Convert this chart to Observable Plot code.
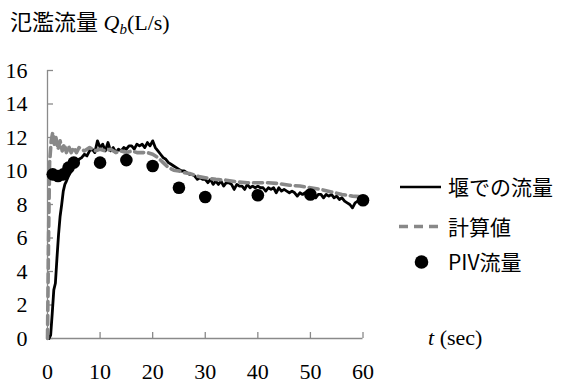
<!DOCTYPE html>
<html>
<head>
<meta charset="utf-8">
<script src="https://cdn.jsdelivr.net/npm/d3@7"></script>
<script src="https://cdn.jsdelivr.net/npm/@observablehq/plot@0.6"></script>
<style>
  html, body { margin: 0; padding: 0; background: #fff; }
  #wrap { position: relative; width: 563px; height: 383px; overflow: hidden; }
  #wrap > svg { position: absolute; left: 0; top: 0; }
  #wrap svg text { font-family: "Liberation Serif", "Noto Sans CJK JP", serif !important; }
  #wrap svg text.sans { font-family: "Noto Sans CJK JP", "Noto Sans", sans-serif !important; }
</style>
</head>
<body>
<div id="wrap"></div>
<script>
// 堰での流量 (measured at the weir), time in seconds
const weirT = [0.3, 0.6, 0.9, 1.2, 1.5, 1.8, 2.1, 2.4, 2.7, 3.0, 3.3, 3.6, 4.0, 4.5, 5.0, 5.5, 6.0, 6.5, 7.0, 7.5,
  8.0, 8.5, 9.0, 9.5, 10.0, 10.5, 11.0, 11.5, 12.0, 12.5, 13.0, 13.5, 14.0, 14.5, 15.0, 15.5, 16.0, 16.5, 17.0, 17.5,
  18.0, 18.5, 19.0, 19.5, 20.0, 20.5, 21.0, 21.5, 22.0, 22.5, 23.0, 23.5, 24.0, 24.5, 25.0, 25.5, 26.0, 26.5, 27.0, 27.5,
  28.0, 28.5, 29.0, 29.5, 30.0, 30.5, 31.0, 31.5, 32.0, 32.5, 33.0, 33.5, 34.0, 34.5, 35.0, 35.5, 36.0, 36.5, 37.0, 37.5,
  38.0, 38.5, 39.0, 39.5, 40.0, 40.5, 41.0, 41.5, 42.0, 42.5, 43.0, 43.5, 44.0, 44.5, 45.0, 45.5, 46.0, 46.5, 47.0, 47.5,
  48.0, 48.5, 49.0, 49.5, 50.0, 50.5, 51.0, 51.5, 52.0, 52.5, 53.0, 53.5, 54.0, 54.5, 55.0, 55.5, 56.0, 56.5, 57.0, 57.5,
  58.0, 58.5, 59.0, 59.5, 60.0];
const weirQ = [0.0, 0.2, 1.5, 2.9, 3.3, 4.8, 6.2, 7.3, 8.0, 8.8, 9.2, 9.4, 9.7, 10.0, 10.3, 10.5, 10.7, 10.8, 11.0, 10.9,
  11.2, 11.3, 11.1, 11.8, 11.4, 11.6, 11.2, 11.7, 11.2, 11.4, 11.1, 11.3, 11.2, 11.4, 11.3, 11.5, 11.5, 11.3, 11.6, 11.5,
  11.6, 11.4, 11.7, 11.5, 11.8, 11.4, 11.2, 11.0, 10.8, 10.7, 10.5, 10.4, 10.3, 10.2, 10.1, 10.0, 10.0, 9.9, 9.8, 9.8,
  9.7, 9.5, 9.6, 9.5, 9.5, 9.3, 9.5, 9.2, 9.4, 9.2, 9.4, 9.1, 9.3, 9.3, 9.2, 8.9, 9.2, 9.1, 9.1, 8.9, 9.2, 9.0, 9.1, 9.0,
  9.1, 9.0, 9.0, 8.8, 9.0, 8.9, 9.0, 8.7, 9.0, 8.8, 8.9, 8.8, 8.7, 8.8, 8.7, 8.5, 8.7, 8.6, 8.7, 8.5, 8.6, 8.6, 8.4, 8.6,
  8.6, 8.4, 8.6, 8.5, 8.6, 8.4, 8.5, 8.3, 8.4, 8.2, 8.1, 8.0, 7.8, 8.1, 8.2, 8.1, 8.2];

// 計算値 (computed discharge)
const calcT = [0, 0.2, 0.4, 0.7, 1.0, 1.3, 1.6, 2.0, 2.4, 2.8, 3.2, 3.6, 4.0, 4.5, 5.0, 5.5, 6.0, 7.0, 8.0, 9.0, 10.0,
  11.0, 12.0, 13.0, 14.0, 15.0, 16.0, 17.0, 18.0, 19.0, 20.0, 21.0, 22.0, 23.0, 24.0, 25.0, 26.0, 27.0, 28.0, 29.0,
  30.0, 32.0, 34.0, 36.0, 38.0, 40.0, 42.0, 44.0, 46.0, 48.0, 50.0, 52.0, 54.0, 56.0, 58.0, 60.0];
const calcQ = [0, 6.0, 10.5, 11.8, 12.3, 11.6, 12.0, 11.3, 11.8, 11.2, 11.6, 11.1, 11.5, 11.1, 11.4, 11.1, 11.4, 11.2,
  11.4, 11.2, 11.3, 11.2, 11.3, 11.1, 11.2, 11.1, 11.2, 11.1, 11.1, 11.1, 11.0, 10.8, 10.5, 10.2, 10.05, 10.0, 9.9, 9.85,
  9.75, 9.65, 9.6, 9.5, 9.45, 9.35, 9.3, 9.3, 9.3, 9.25, 9.15, 9.1, 9.0, 8.9, 8.75, 8.6, 8.5, 8.45];

// PIV流量 (PIV-derived discharge)
const pivT = [1, 2, 3, 4, 5, 10, 15, 20, 25, 30, 40, 50, 60];
const pivQ = [9.8, 9.7, 9.8, 10.2, 10.5, 10.5, 10.65, 10.3, 9.0, 8.45, 8.55, 8.6, 8.25];

const xTicks = [0, 10, 20, 30, 40, 50, 60];
const yTicks = [0, 2, 4, 6, 8, 10, 12, 14, 16];

const weir = weirT.map((t, i) => ({t, q: weirQ[i]}));
const calc = calcT.map((t, i) => ({t, q: calcQ[i]}));
const piv = pivT.map((t, i) => ({t, q: pivQ[i]}));

const axisGray = "#8a8a8a";
const serifFont = "Liberation Serif";

const chart = Plot.plot({
  width: 563,
  height: 383,
  marginLeft: 47,
  marginRight: 200.5,
  marginTop: 70,
  marginBottom: 45,
  style: "font-family: 'Liberation Serif', serif; font-size: 22px; color: #000; background: transparent;",
  x: {domain: [0, 60], ticks: xTicks, label: null},
  y: {domain: [0, 16], ticks: yTicks, label: null},
  marks: [
    Plot.ruleY([0], {stroke: axisGray, strokeWidth: 1.3}),
    Plot.ruleX([0], {stroke: axisGray, strokeWidth: 1.3}),
    // inward tick marks
    Plot.axisX({ticks: xTicks, tickSize: 6, dy: -6, tickFormat: () => "", label: null, stroke: axisGray, strokeWidth: 1.3}),
    Plot.axisY({ticks: yTicks, tickSize: 6, dx: 6, tickFormat: () => "", label: null, stroke: axisGray, strokeWidth: 1.3}),
    // tick labels
    Plot.axisX({ticks: xTicks, tickSize: 0, tickPadding: 25, label: null, fontSize: 22, fontFamily: serifFont, fill: "#000"}),
    Plot.axisY({ticks: yTicks, tickSize: 0, tickPadding: 20, label: null, fontSize: 22, fontFamily: serifFont, fill: "#000"}),
    Plot.line(weir, {x: "t", y: "q", stroke: "#000", strokeWidth: 2.8, strokeLinejoin: "round"}),
    Plot.line(calc, {x: "t", y: "q", stroke: "#888", strokeWidth: 3.6, strokeDasharray: "9,5"}),
    Plot.dot(piv, {x: "t", y: "q", r: 6.3, fill: "#000", stroke: "none"})
  ]
});

const wrap = document.getElementById("wrap");
wrap.appendChild(chart);

// Title, axis unit and legend
const ns = "http://www.w3.org/2000/svg";
const overlay = document.createElementNS(ns, "svg");
overlay.setAttribute("width", 563);
overlay.setAttribute("height", 383);
overlay.innerHTML = `
  <text x="10" y="30" font-size="22" fill="#000">氾濫流量 <tspan font-style="italic">Q</tspan><tspan font-style="italic" font-size="15" dy="4">b</tspan><tspan dy="-4">(L/s)</tspan></text>
  <text x="428" y="345" font-size="22" fill="#000"><tspan font-style="italic">t</tspan> (sec)</text>
  <line x1="400" x2="441" y1="187" y2="187" stroke="#000" stroke-width="2.6"/>
  <text class="sans" x="448" y="195" font-size="21" fill="#000">堰での流量</text>
  <line x1="399" x2="440" y1="226.5" y2="226.5" stroke="#888" stroke-width="3.6" stroke-dasharray="9,6"/>
  <text class="sans" x="448" y="235" font-size="21" fill="#000">計算値</text>
  <circle cx="421.5" cy="262" r="6.8" fill="#000"/>
  <text class="sans" x="448" y="270" font-size="21" fill="#000">PIV流量</text>
`;
wrap.appendChild(overlay);
</script>
</body>
</html>
